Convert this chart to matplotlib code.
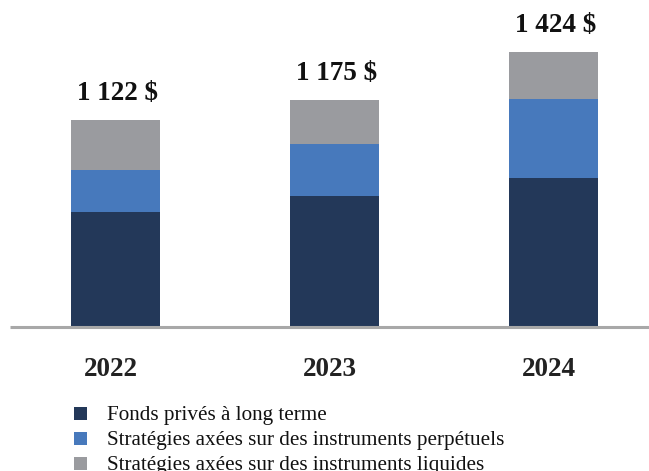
import matplotlib
matplotlib.use("Agg")
import matplotlib.pyplot as plt
from matplotlib.patches import Rectangle

# ---- data ----
years = ["2022", "2023", "2024"]
totals_labels = ["1 122 $", "1 175 $", "1 424 $"]
long_term_private = [623, 710, 808]
perpetual = [228, 282, 428]
liquid = [271, 239, 255]
series_names = [
    "Fonds privés à long terme",
    "Stratégies axées sur des instruments perpétuels",
    "Stratégies axées sur des instruments liquides",
]
colors = ["#233859", "#4779bc", "#9a9b9f"]

W, H = 649, 471
fig = plt.figure(figsize=(W / 100, H / 100), dpi=100)
serif = ["Liberation Serif", "DejaVu Serif"]

base_px = 327  # baseline from top
ax = fig.add_axes([0, (H - base_px) / H, 1, base_px / H])
ax.set_axis_off()

centers_px = [115.5, 334.5, 552.5]
spacing = 219.0
x = list(range(len(years)))
ax.set_xlim(-centers_px[0] / spacing, (W - centers_px[0]) / spacing)
k = 1122 / 207.0
ax.set_ylim(0, base_px * k)
bw = 89 / spacing

ax.bar(x, long_term_private, width=bw, color=colors[0])
ax.bar(x, perpetual, width=bw, bottom=long_term_private, color=colors[1])
bot3 = [a + b for a, b in zip(long_term_private, perpetual)]
ax.bar(x, liquid, width=bw, bottom=bot3, color=colors[2])

for i in x:
    top = bot3[i] + liquid[i]
    ax.annotate(totals_labels[i], (i, top), xytext=(1.2, 14.4), textcoords="offset points",
                ha="center", va="baseline", fontsize=19.5, fontweight="bold",
                family=serif, color="#111111")
    ax.annotate(years[i], (i, 0), xytext=(-3, -35), textcoords="offset points",
                ha="center", va="baseline", fontsize=19.5, fontweight="bold",
                family=serif, color="#222222", annotation_clip=False)

# baseline axis line
ax.plot([10 / W, 1], [0, 0], transform=ax.transAxes, color="#a8a8a8",
        lw=2.2, clip_on=False, solid_capstyle="butt")

# legend (manual)
rows_y = [413, 438, 463]
for name, c, yy in zip(series_names, colors, rows_y):
    sq = 13
    fig.add_artist(Rectangle((74 / W, (H - yy - sq / 2) / H), sq / W, sq / H,
                             transform=fig.transFigure, color=c, lw=0))
    fig.text(107 / W, (H - yy) / H, name, ha="left", va="center_baseline",
             fontsize=15.2, family=serif, color="#111111")

fig.savefig("out.png", dpi=100)
